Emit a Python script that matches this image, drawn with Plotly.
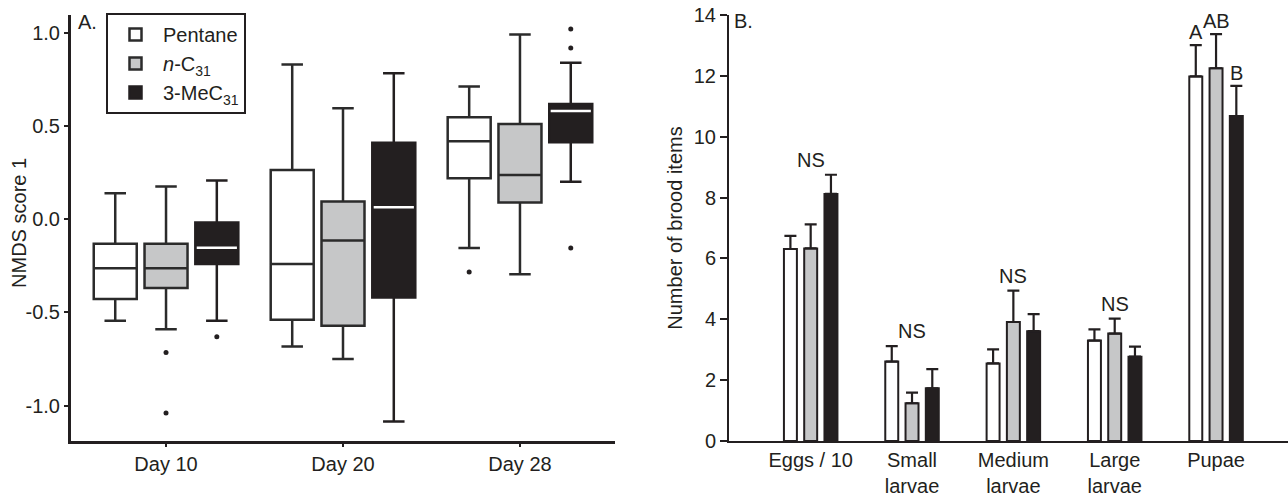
import plotly.graph_objects as go

# ---------------- data ----------------
days = ["Day 10", "Day 20", "Day 28"]
series_names = ["Pentane", "<i>n</i>-C<sub>31</sub>", "3-MeC<sub>31</sub>"]

# Panel A box statistics (NMDS score 1)
pentane_low = [-0.545, -0.683, -0.155]
pentane_q1 = [-0.429, -0.540, 0.220]
pentane_med = [-0.263, -0.240, 0.418]
pentane_q3 = [-0.132, 0.264, 0.547]
pentane_high = [0.139, 0.830, 0.711]

nc31_low = [-0.590, -0.750, -0.295]
nc31_q1 = [-0.370, -0.572, 0.089]
nc31_med = [-0.263, -0.115, 0.237]
nc31_q3 = [-0.132, 0.094, 0.511]
nc31_high = [0.175, 0.595, 0.991]

me_low = [-0.545, -1.085, 0.200]
me_q1 = [-0.240, -0.420, 0.413]
me_med = [-0.154, 0.064, 0.580]
me_q3 = [-0.018, 0.410, 0.618]
me_high = [0.207, 0.782, 0.839]

# outliers: day index, value
pentane_out_day = [2]
pentane_out_val = [-0.284]
nc31_out_day = [0, 0]
nc31_out_val = [-0.715, -1.040]
me_out_day = [0, 2, 2, 2]
me_out_val = [-0.631, 1.020, 0.918, -0.155]

# Panel B bars (number of brood items)
brood = ["Eggs / 10", "Small<br>larvae", "Medium<br>larvae", "Large<br>larvae", "Pupae"]
pentane_mean = [6.31, 2.61, 2.55, 3.30, 11.98]
pentane_se = [0.43, 0.51, 0.46, 0.37, 1.03]
nc31_mean = [6.33, 1.24, 3.91, 3.53, 12.25]
nc31_se = [0.79, 0.35, 1.03, 0.49, 1.12]
me_mean = [8.12, 1.73, 3.61, 2.77, 10.68]
me_se = [0.63, 0.63, 0.56, 0.33, 0.99]

group_labels = ["NS", "NS", "NS", "NS", None]
pupae_letters = ["A", "AB", "B"]

# ---------------- style ----------------
INK = "#231f20"
EDGE = "#2b2b2b"
fills = ["#ffffff", "#c6c7c8", INK]
FONT = "Arial, Liberation Sans, sans-serif"
box_offsets = [-0.287, 0.0, 0.287]
box_w = 0.243
bar_offsets = [-0.2, 0.0, 0.2]

fig = go.Figure()

box_stats = [
    (pentane_low, pentane_q1, pentane_med, pentane_q3, pentane_high),
    (nc31_low, nc31_q1, nc31_med, nc31_q3, nc31_high),
    (me_low, me_q1, me_med, me_q3, me_high),
]
outs = [(pentane_out_day, pentane_out_val), (nc31_out_day, nc31_out_val), (me_out_day, me_out_val)]

for s, (lo, q1, med, q3, hi) in enumerate(box_stats):
    xs = [i + box_offsets[s] for i in range(len(days))]
    fig.add_trace(go.Box(
        x=xs, lowerfence=lo, q1=q1, median=med, q3=q3, upperfence=hi,
        width=box_w, fillcolor=fills[s],
        line=dict(color=EDGE if s < 2 else INK, width=2.5),
        boxpoints=False, name=series_names[s], showlegend=True,
        xaxis="x", yaxis="y", hoverinfo="skip",
    ))

# white median line for black boxes
mx, my = [], []
for i in range(len(days)):
    c = i + box_offsets[2]
    mx += [c - box_w / 2 + 0.008, c + box_w / 2 - 0.008, None]
    my += [me_med[i], me_med[i], None]
fig.add_trace(go.Scatter(x=mx, y=my, mode="lines", line=dict(color="white", width=2.5),
                         showlegend=False, xaxis="x", yaxis="y", hoverinfo="skip"))

for s, (od, ov) in enumerate(outs):
    fig.add_trace(go.Scatter(
        x=[d + box_offsets[s] for d in od], y=ov, mode="markers",
        marker=dict(color=INK, size=5), showlegend=False,
        xaxis="x", yaxis="y", hoverinfo="skip",
    ))

# Panel B bars
bars = [(pentane_mean, pentane_se), (nc31_mean, nc31_se), (me_mean, me_se)]
for s, (m, e) in enumerate(bars):
    fig.add_trace(go.Bar(
        x=list(range(len(brood))), y=m, name=series_names[s], showlegend=False,
        marker=dict(color=fills[s], line=dict(color=INK, width=2)),
        error_y=dict(type="data", array=e, arrayminus=[0] * len(e), symmetric=False,
                     color=INK, thickness=2.2, width=6),
        xaxis="x2", yaxis="y2", hoverinfo="skip",
    ))

FS = 20
annotations = []
for i, lab in enumerate(group_labels):
    if lab:
        top = max(pentane_mean[i] + pentane_se[i], nc31_mean[i] + nc31_se[i], me_mean[i] + me_se[i])
        annotations.append(dict(x=i, y=top, xref="x2", yref="y2", text=lab, showarrow=False,
                                yanchor="middle", yshift=15, font=dict(size=FS, color=INK, family=FONT)))
pi = len(brood) - 1
for s, lab in enumerate(pupae_letters):
    m, e = bars[s]
    annotations.append(dict(x=pi + bar_offsets[s], y=m[pi] + e[pi], xref="x2", yref="y2", text=lab,
                            showarrow=False, yanchor="middle", yshift=13,
                            font=dict(size=FS, color=INK, family=FONT)))
annotations.append(dict(x=76 / 1288, y=1 - 22 / 497, xref="paper", yref="paper", text="A.",
                        showarrow=False, xanchor="left", yanchor="middle",
                        font=dict(size=FS, color=INK, family=FONT)))
annotations.append(dict(x=732 / 1288, y=1 - 21 / 497, xref="paper", yref="paper", text="B.",
                        showarrow=False, xanchor="left", yanchor="middle",
                        font=dict(size=FS, color=INK, family=FONT)))
# y-axis title of panel A
annotations.append(dict(x=19 / 1288, y=(1 - 56 / 497 + 15 / 497) / 2 + 56 / 497 - 0.02,
                        xref="paper", yref="paper", text="NMDS score 1", textangle=-90,
                        showarrow=False, xanchor="center", yanchor="middle",
                        font=dict(size=FS, color=INK, family=FONT)))

axis_font = dict(size=FS, color=INK, family=FONT)
ydom = [56 / 497, 1 - 15 / 497]

fig.update_layout(
    width=1288, height=497,
    margin=dict(l=0, r=0, t=0, b=0),
    paper_bgcolor="white", plot_bgcolor="white",
    font=dict(family=FONT, color=INK, size=FS),
    barmode="group", bargap=0.4, bargroupgap=0.36,
    annotations=annotations,
    legend=dict(x=106 / 1288, y=1 - 13 / 497, xanchor="left", yanchor="top",
                bordercolor=INK, borderwidth=2, bgcolor="white", itemwidth=45,
                font=dict(size=FS, color=INK, family=FONT), tracegroupgap=0),
    xaxis=dict(domain=[71 / 1288, 615 / 1288], range=[-0.537, 2.537], automargin=False,
               tickvals=list(range(len(days))), ticktext=days,
               showline=True, linecolor=INK, linewidth=3, ticks="outside",
               ticklen=3, tickwidth=2, tickcolor=INK, showgrid=False, zeroline=False,
               tickfont=axis_font),
    yaxis=dict(domain=ydom, range=[-1.19, 1.095], automargin=False,
               tickvals=[1.0, 0.5, 0.0, -0.5, -1.0],
               ticktext=["1.0", "0.5", "0.0", "-0.5", "-1.0"],
               showline=True, linecolor=INK, linewidth=3, ticks="outside",
               ticklen=4, tickwidth=2, tickcolor=INK, showgrid=False, zeroline=False,
               tickfont=axis_font),
    xaxis2=dict(domain=[729 / 1288, 1.0], range=[-0.806, 4.71], anchor="y2", automargin=False,
                tickvals=list(range(len(brood))), ticktext=brood,
                showline=True, linecolor=INK, linewidth=2, ticks="",
                showgrid=False, zeroline=False, tickfont=axis_font),
    yaxis2=dict(domain=ydom, range=[0, 14], anchor="x2", automargin=False,
                tickvals=list(range(0, 15, 2)),
                showline=True, linecolor=INK, linewidth=2, ticks="outside",
                ticklen=7, tickwidth=2, tickcolor=INK, showgrid=False, zeroline=False,
                tickfont=axis_font,
                title=dict(text="Number of brood items", font=axis_font, standoff=6)),
)

fig.write_html("out.html", config={"displayModeBar": False},
               post_script="document.body.style.margin='0';")
